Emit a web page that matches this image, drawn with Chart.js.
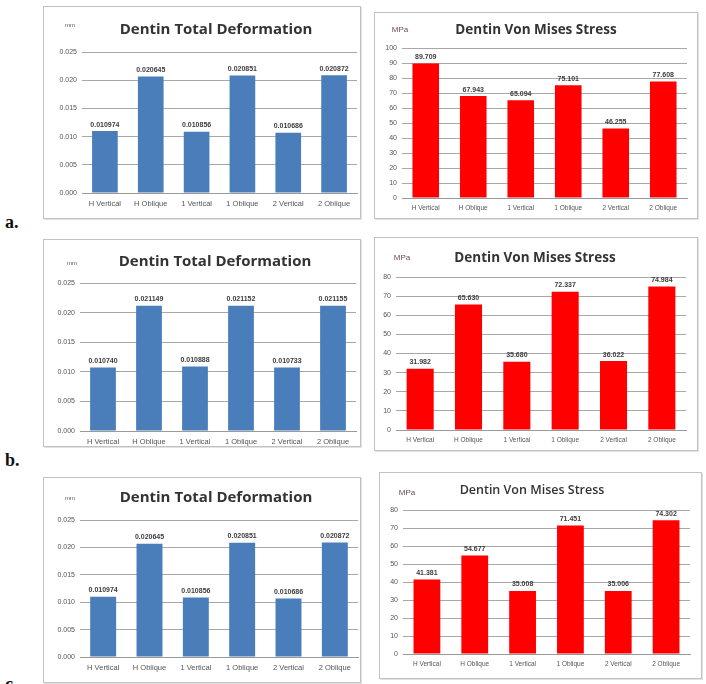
<!DOCTYPE html>
<html>
<head>
<meta charset="utf-8">
<script src="https://cdn.jsdelivr.net/npm/chart.js@4/dist/chart.umd.min.js"></script>
<style>
  html, body { margin: 0; padding: 0; background: #fff; width: 706px; height: 684px; overflow: hidden; }
  body { position: relative; }
  .panel { position: absolute; background: #fff; box-shadow: 0 0 0 1px #c2c2c2, 1px 1px 0 1px #e2e2e2; }
  .panel canvas { position: absolute; left: 0; top: 0; }
  .tag { position: absolute; font: bold 18px "Liberation Serif", serif; color: #111; line-height: 18px; }
</style>
</head>
<body>
<div class="tag" style="left:5px;top:213px;">a.</div>
<div class="tag" style="left:5px;top:451px;">b.</div>
<div class="tag" style="left:5px;top:675px;">c.</div>

<div class="panel" id="pA1"><canvas id="cA1"></canvas></div>
<div class="panel" id="pA2"><canvas id="cA2"></canvas></div>
<div class="panel" id="pB1"><canvas id="cB1"></canvas></div>
<div class="panel" id="pB2"><canvas id="cB2"></canvas></div>
<div class="panel" id="pC1"><canvas id="cC1"></canvas></div>
<div class="panel" id="pC2"><canvas id="cC2"></canvas></div>

<script>
// Load cases shared by every panel
const categories = ["H Vertical", "H Oblique", "1 Vertical", "1 Oblique", "2 Vertical", "2 Oblique"];

// Total deformation of dentin (mm)
const deformA = [0.010974, 0.020645, 0.010856, 0.020851, 0.010686, 0.020872];
const deformB = [0.010740, 0.021149, 0.010888, 0.021152, 0.010733, 0.021155];
const deformC = [0.010974, 0.020645, 0.010856, 0.020851, 0.010686, 0.020872];

// Von Mises stress in dentin (MPa)
const stressA = [89.709, 67.943, 65.094, 75.101, 46.255, 77.608];
const stressB = [31.982, 65.630, 35.680, 72.337, 36.022, 74.984];
const stressC = [41.381, 54.677, 35.008, 71.451, 35.006, 74.302];

// Value-axis ranges (max, step)
const deformAxis = [0.025, 0.005];
const stressAxisA = [100, 10];
const stressAxisBC = [80, 10];

const titleDeform = "Dentin Total Deformation";
const titleStress = "Dentin Von Mises Stress";
const unitDeform = "mm";
const unitStress = "MPa";

const sans = '"Liberation Sans", Arial, sans-serif';

// Draws the panel heading and the unit caption
const panelText = {
  id: 'panelText',
  afterDraw(chart, args, opts) {
    const ctx = chart.ctx;
    ctx.save();
    ctx.textBaseline = 'middle';
    ctx.textAlign = 'center';
    ctx.fillStyle = opts.titleColor;
    ctx.font = opts.titleFont;
    ctx.fillText(opts.title, opts.titleX, opts.titleY);
    ctx.font = opts.unitFont;
    ctx.fillStyle = opts.unitColor;
    ctx.fillText(opts.unit, opts.unitX, opts.unitY);
    ctx.restore();
  }
};

// Writes each bar's value just above it
const barValues = {
  id: 'barValues',
  afterDatasetsDraw(chart, args, opts) {
    const ctx = chart.ctx;
    ctx.save();
    ctx.font = opts.font;
    ctx.fillStyle = opts.color;
    ctx.textAlign = 'center';
    ctx.textBaseline = 'bottom';
    chart.data.datasets.forEach((ds, di) => {
      chart.getDatasetMeta(di).data.forEach((bar, i) => {
        ctx.fillText(ds.data[i].toFixed(opts.decimals), bar.x, bar.y - 3);
      });
    });
    ctx.restore();
  }
};

function makePanel(key, box, plot, values, color, axis, decimals, tickDecimals, heading, unit, head, sizes) {
  const panel = document.getElementById('p' + key);
  panel.style.left = box.x + 'px';
  panel.style.top = box.y + 'px';
  panel.style.width = box.w + 'px';
  panel.style.height = box.h + 'px';
  const canvas = document.getElementById('c' + key);
  canvas.width = box.w;
  canvas.height = box.h;

  new Chart(canvas, {
    type: 'bar',
    data: {
      labels: categories,
      datasets: [{
        data: values,
        backgroundColor: color,
        borderWidth: 0,
        barPercentage: 0.56,
        categoryPercentage: 1.0
      }]
    },
    options: {
      responsive: false,
      animation: false,
      devicePixelRatio: 1,
      layout: {
        padding: { top: plot.t - box.y, right: box.x + box.w - plot.r, left: 0, bottom: 0 }
      },
      plugins: {
        legend: { display: false },
        tooltip: { enabled: false },
        title: { display: false },
        panelText: {
          title: heading, unit: unit,
          titleX: head.x - box.x, titleY: head.y - box.y,
          titleFont: head.font, titleColor: '#333',
          unitX: head.ux - box.x, unitY: head.uy - box.y,
          unitFont: head.ufont, unitColor: head.ucolor
        },
        barValues: { font: 'bold ' + sizes.val + 'px ' + sans, color: '#3c3c3c', decimals: decimals }
      },
      scales: {
        x: {
          grid: { display: false, drawTicks: false },
          border: { display: true, color: '#9a9a9a', width: 1 },
          ticks: {
            autoSkip: false, maxRotation: 0, minRotation: 0, padding: sizes.xpad,
            color: '#555', font: { size: sizes.x, family: sans }
          },
          afterFit(scale) { scale.height = box.y + box.h - plot.b; }
        },
        y: {
          min: 0, max: axis[0],
          grid: { color: '#a8a8a8', lineWidth: 1, drawTicks: false },
          border: { display: false },
          ticks: {
            stepSize: axis[1], padding: 5,
            color: '#555', font: { size: sizes.y, family: sans },
            callback: v => Number(v).toFixed(tickDecimals)
          },
          afterFit(scale) { scale.width = plot.l - box.x; }
        }
      }
    },
    plugins: [panelText, barValues]
  });
}

const blue = '#4a7ebb';
const red = '#ff0000';
const headDeform = (x, y, ux, uy) => ({ x, y, ux, uy, font: 'bold 15px "Open Sans", sans-serif', ufont: '6px ' + sans, ucolor: '#555' });
const headStress = (x, y, ux, uy, f) => ({ x, y, ux, uy, font: f || 'bold 13.5px "Open Sans", sans-serif', ufont: '8px ' + sans, ucolor: '#6a4a5a' });
const leftSizes = { x: 7.5, y: 7, val: 7, xpad: 6 };
const rightSizes = { x: 6.5, y: 7, val: 7, xpad: 6 };

makePanel('A1', { x: 44, y: 7, w: 316, h: 211 }, { l: 82, t: 52, r: 357, b: 193 },
  deformA, blue, deformAxis, 6, 3, titleDeform, unitDeform, headDeform(216, 30, 70, 25), leftSizes);
makePanel('A2', { x: 375, y: 13, w: 322, h: 205 }, { l: 402, t: 48, r: 687, b: 198 },
  stressA, red, stressAxisA, 3, 0, titleStress, unitStress, headStress(536, 30, 400, 30), rightSizes);
makePanel('B1', { x: 44, y: 240, w: 316, h: 206 }, { l: 80, t: 283, r: 356, b: 431 },
  deformB, blue, deformAxis, 6, 3, titleDeform, unitDeform, headDeform(215, 262, 72, 263), leftSizes);
makePanel('B2', { x: 375, y: 238, w: 322, h: 212 }, { l: 396, t: 277, r: 686, b: 430 },
  stressB, red, stressAxisBC, 3, 0, titleStress, unitStress, headStress(535, 258, 402, 258), rightSizes);
makePanel('C1', { x: 44, y: 478, w: 316, h: 204 }, { l: 80, t: 520, r: 358, b: 657 },
  deformC, blue, deformAxis, 6, 3, titleDeform, unitDeform, headDeform(216, 498, 70, 498), leftSizes);
makePanel('C2', { x: 380, y: 473, w: 321, h: 205 }, { l: 403, t: 510, r: 690, b: 654 },
  stressC, red, stressAxisBC, 3, 0, titleStress, unitStress, headStress(532, 490, 407, 493, '600 12.5px "Open Sans", sans-serif'), rightSizes);
</script>
</body>
</html>
